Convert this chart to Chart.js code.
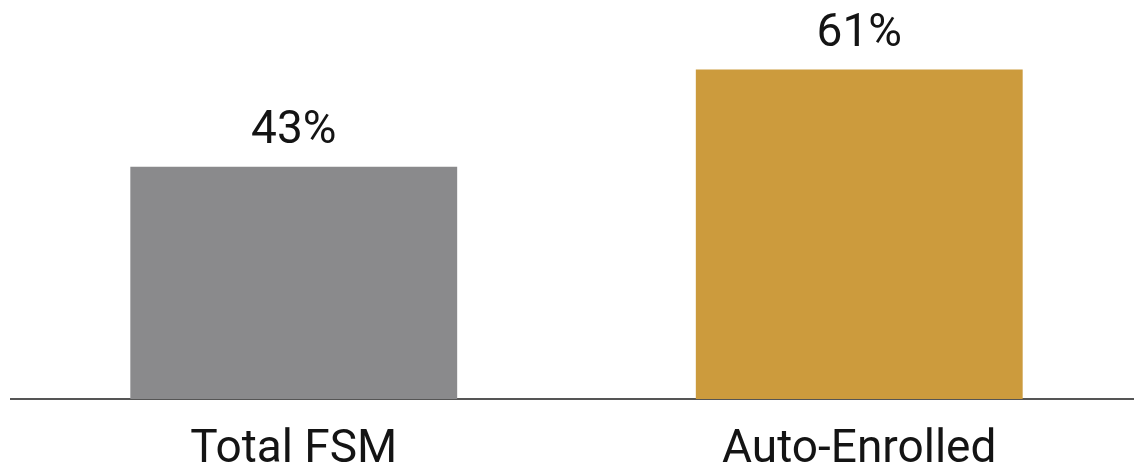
<!DOCTYPE html>
<html>
<head>
<meta charset="utf-8">
<title>FSM enrolment</title>
<script src="https://cdn.jsdelivr.net/npm/chart.js@4"></script>
<style>
  html, body { margin: 0; padding: 0; background: #ffffff; overflow: hidden; }
  #wrap { position: relative; width: 1142px; height: 469px; }
</style>
</head>
<body>
<div id="wrap"><canvas id="chart"></canvas></div>
<script>
// Share of pupils, by group
const categories = ['Total FSM', 'Auto-Enrolled'];
const shares = [43, 61];
const barColors = ['#8a8a8c', '#cc9b3d'];

const FONT = 'Roboto, "Liberation Sans", Arial, sans-serif';

// Writes each bar's percentage above it
const valueLabels = {
  id: 'valueLabels',
  afterDatasetsDraw(chart) {
    const ctx = chart.ctx;
    const meta = chart.getDatasetMeta(0);
    ctx.save();
    ctx.font = '46px ' + FONT;
    ctx.fillStyle = '#141414';
    ctx.textAlign = 'center';
    ctx.textBaseline = 'alphabetic';
    meta.data.forEach((bar, i) => {
      ctx.fillText(shares[i] + '%', bar.x, bar.y - 24);
    });
    ctx.restore();
  }
};

new Chart(document.getElementById('chart'), {
  type: 'bar',
  data: {
    labels: categories,
    datasets: [{
      data: shares,
      backgroundColor: barColors,
      borderWidth: 0,
      barPercentage: 0.578,
      categoryPercentage: 1
    }]
  },
  options: {
    responsive: true,
    maintainAspectRatio: false,
    animation: false,
    devicePixelRatio: 1,
    layout: { padding: { left: 11, right: 0, top: 21, bottom: 0 } },
    plugins: {
      legend: { display: false },
      tooltip: { enabled: false }
    },
    scales: {
      x: {
        z: 1,
        grid: { display: false, drawTicks: false },
        border: { display: true, color: '#555555', width: 2 },
        ticks: {
          color: '#141414',
          padding: 24,
          font: { family: FONT, size: 46 }
        },
        afterFit(scale) { scale.height = 70; }
      },
      y: {
        display: false,
        min: 0,
        max: 70
      }
    }
  },
  plugins: [valueLabels]
});
</script>
</body>
</html>
